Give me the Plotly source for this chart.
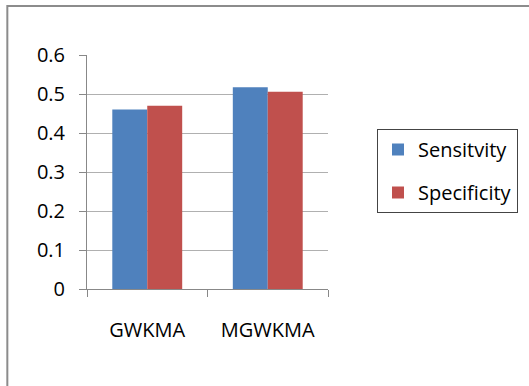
import plotly.graph_objects as go

categories = ["GWKMA", "MGWKMA"]
sensitivity = [0.46, 0.517]
specificity = [0.47, 0.506]
series_names = ["Sensitvity", "Specificity"]
colors = ["#4F81BD", "#C0504D"]
y_ticks = [0, 0.1, 0.2, 0.3, 0.4, 0.5, 0.6]
y_tick_labels = ["0", "0.1", "0.2", "0.3", "0.4", "0.5", "0.6"]

W, H = 529, 386
L, R, T, B = 87, 200, 55, 97
pw, ph = W - L - R, H - T - B

fig = go.Figure()
for name, vals, col in zip(series_names, [sensitivity, specificity], colors):
    fig.add_trace(go.Bar(x=categories, y=vals, name=name, marker_color=col,
                         marker_line_width=0, legendgroup=name))

font = "Open Sans, DejaVu Sans, sans-serif"

fig.update_layout(
    width=W, height=H,
    margin=dict(l=L, r=R, t=T, b=B, pad=0),
    paper_bgcolor="white", plot_bgcolor="white",
    barmode="group", bargap=0.42, bargroupgap=0,
    font=dict(family=font, size=20, color="#000000"),
    xaxis=dict(
        showgrid=False, showline=True, linecolor="#888888", linewidth=1,
        ticks="outside", ticklen=7, tickcolor="#888888", tickson="boundaries",
        tickfont=dict(size=20), ticklabelstandoff=23, automargin=False,
    ),
    yaxis=dict(
        range=[0, 0.6], tickvals=y_ticks, ticktext=y_tick_labels,
        showgrid=True, gridcolor="#B0B0B0", gridwidth=1.3,
        showline=True, linecolor="#888888", linewidth=1,
        ticks="outside", ticklen=7, tickcolor="#888888",
        tickfont=dict(size=20), ticklabelstandoff=10, zeroline=False,
        automargin=False,
    ),
    legend=dict(
        x=(377 - L) / pw, y=(H - B - 129) / ph, xanchor="left", yanchor="top",
        bgcolor="white", bordercolor="#444444", borderwidth=1,
        font=dict(size=20), traceorder="grouped", tracegroupgap=14,
    ),
    shapes=[dict(
        type="rect", xref="paper", yref="paper",
        x0=(7 - L) / pw, x1=(560 - L) / pw,
        y0=(H - B - 420) / ph, y1=(H - B - 6) / ph,
        line=dict(color="#8C8C8C", width=2), fillcolor="rgba(0,0,0,0)", layer="below",
    )],
)

fig.write_html("out.html", config={"displayModeBar": False},
               post_script="document.body.style.margin='0';document.body.style.overflow='hidden';")
